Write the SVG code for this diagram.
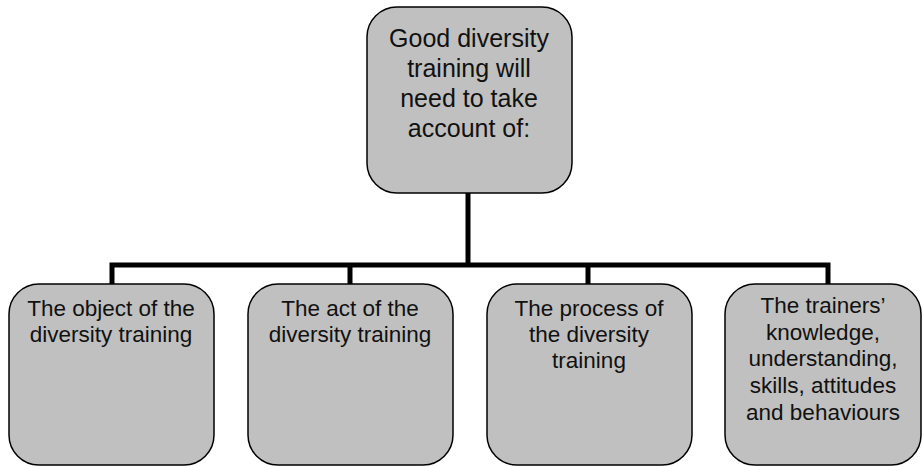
<svg xmlns="http://www.w3.org/2000/svg" width="923" height="466" viewBox="0 0 923 466">
  <style>
    .box { fill: #c0c0c0; stroke: #000; stroke-width: 1.5; }
    .lbl { font-family: "Century Gothic", "Liberation Sans", Arial, sans-serif; fill: #111; text-anchor: middle; }
    .top { font-size: 25px; }
    .sub { font-size: 22.5px; }
    .wire { fill: none; stroke: #000; stroke-width: 5; stroke-linejoin: miter; }
  </style>

  <!-- tree connectors -->
  <g id="connectors">
    <path class="wire" d="M468 193 V265"/>
    <path class="wire" d="M112 284 V265 H828 V284"/>
    <path class="wire" d="M350 265 V284"/>
    <path class="wire" d="M588 265 V284"/>
  </g>

  <!-- root -->
  <g id="root">
    <rect class="box" x="367" y="7" width="205" height="186" rx="30"/>
    <text class="lbl top" x="469" y="47">Good diversity</text>
    <text class="lbl top" x="469" y="77">training will</text>
    <text class="lbl top" x="469" y="107">need to take</text>
    <text class="lbl top" x="469" y="137">account of:</text>
  </g>

  <!-- children -->
  <g id="object">
    <rect class="box" x="9" y="284" width="205" height="181" rx="30"/>
    <text class="lbl sub" x="111" y="316">The object of the</text>
    <text class="lbl sub" x="111" y="342">diversity training</text>
  </g>

  <g id="act">
    <rect class="box" x="248" y="284" width="205" height="181" rx="30"/>
    <text class="lbl sub" x="350" y="316">The act of the</text>
    <text class="lbl sub" x="350" y="342">diversity training</text>
  </g>

  <g id="process">
    <rect class="box" x="487" y="284" width="205" height="181" rx="30"/>
    <text class="lbl sub" x="589" y="316">The process of</text>
    <text class="lbl sub" x="589" y="342">the diversity</text>
    <text class="lbl sub" x="589" y="368">training</text>
  </g>

  <g id="trainers">
    <rect class="box" x="725" y="284" width="196" height="181" rx="30"/>
    <text class="lbl sub" x="823" y="313">The trainers’</text>
    <text class="lbl sub" x="823" y="340">knowledge,</text>
    <text class="lbl sub" x="823" y="366">understanding,</text>
    <text class="lbl sub" x="823" y="393">skills, attitudes</text>
    <text class="lbl sub" x="823" y="420">and behaviours</text>
  </g>
</svg>
